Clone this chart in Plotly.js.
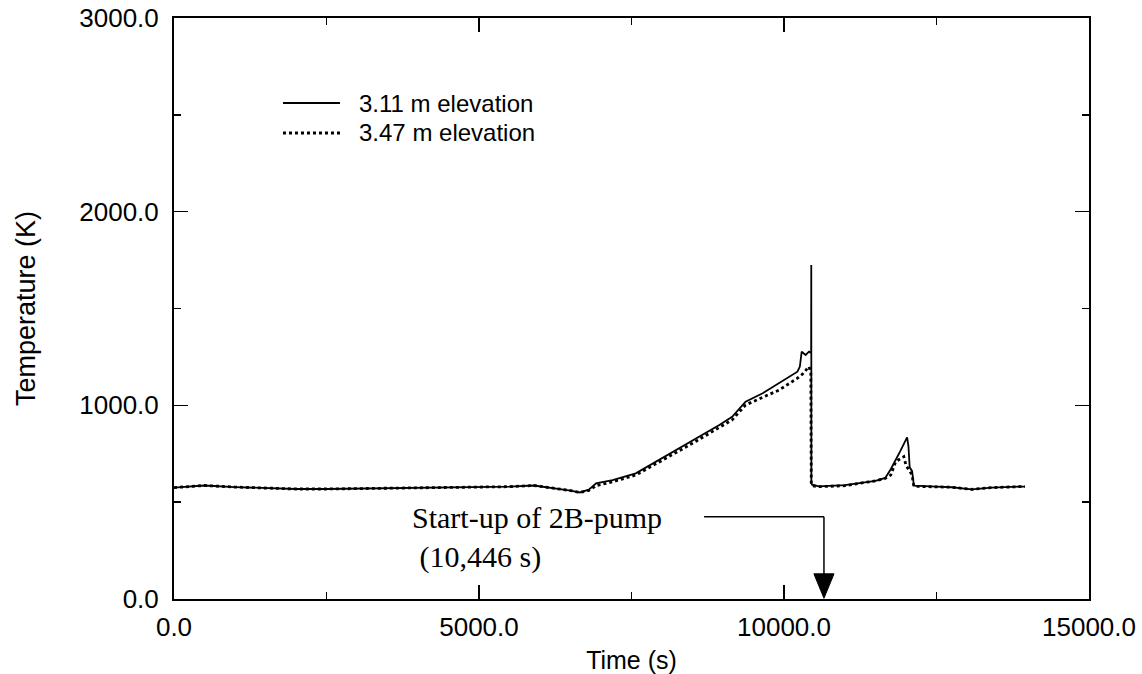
<!DOCTYPE html>
<html>
<head>
<meta charset="utf-8">
<script src="https://cdn.plot.ly/plotly-3.0.1.min.js"></script>
<style>html,body{margin:0;padding:0;background:#fff;}#chart{width:1142px;height:674px;}</style>
</head>
<body>
<div id="chart"></div>
<script>
// 3.11 m elevation (solid)
const timeA = [0, 250, 500, 1000, 1500, 2000, 2500, 3000, 3500, 4000, 4500, 5000, 5500, 5900, 6200, 6500, 6650, 6800, 6920, 7190, 7570, 7950, 8280, 8560, 8940, 9150, 9370, 9650, 9920, 10220, 10260, 10290, 10355, 10410, 10445, 10447, 10449, 10460, 10570, 11000, 11230, 11500, 11660, 11750, 11900, 12018, 12040, 12060, 12100, 12130, 12400, 12750, 13080, 13400, 13850, 13950];
const tempA = [575, 582, 586, 578, 572, 568, 568, 570, 570, 572, 574, 576, 580, 586, 574, 560, 550, 565, 597, 614, 649, 718, 778, 830, 898, 941, 1019, 1062, 1114, 1174, 1200, 1277, 1260, 1277, 1270, 1725, 600, 590, 582, 588, 598, 610, 625, 670, 760, 835, 790, 680, 660, 585, 582, 577, 566, 575, 580, 580];
// 3.47 m elevation (dotted)
const timeB = [0, 250, 500, 1000, 1500, 2000, 2500, 3000, 3500, 4000, 4500, 5000, 5500, 5900, 6200, 6500, 6650, 6800, 6920, 7190, 7570, 7950, 8280, 8560, 8940, 9150, 9370, 9650, 9920, 10220, 10300, 10410, 10440, 10447, 10460, 10570, 11000, 11230, 11500, 11660, 11750, 11830, 11964, 12000, 12046, 12100, 12128, 12400, 12750, 13080, 13400, 13850, 13950];
const tempB = [575, 582, 586, 578, 572, 568, 568, 570, 570, 572, 574, 576, 580, 586, 574, 560, 550, 560, 585, 605, 640, 705, 765, 815, 885, 925, 1002, 1040, 1079, 1140, 1160, 1200, 1170, 600, 585, 580, 585, 597, 610, 623, 640, 709, 735, 690, 666, 640, 582, 580, 577, 566, 575, 580, 580];
const seriesNames = ["3.11 m elevation", "3.47 m elevation"];
const xTicks = [0, 5000, 10000, 15000];
const xMinorTicks = [2500, 7500, 12500];
const yTicks = [0, 1000, 2000, 3000];
const yMinorTicks = [500, 1500, 2500];
const pumpTime = 10655;
const pumpLabel = "Start-up of 2B-pump<br>&nbsp;(10,446 s)";

const sans = "Liberation Sans, Arial, Helvetica, sans-serif";
const serif = "Liberation Serif, Times New Roman, serif";
const styles = [{color: "#000", width: 1.8, dash: "solid"}, {color: "#000", width: 2.8, dash: "dot"}];

const traces = [
  {x: timeA, y: tempA, mode: "lines", name: seriesNames[0], line: styles[0], showlegend: false},
  {x: timeB, y: tempB, mode: "lines", name: seriesNames[1], line: styles[1], showlegend: false},
  {x: [], y: [], xaxis: "x2", yaxis: "y2", mode: "lines", showlegend: false, hoverinfo: "skip"}
];

const axisCommon = {
  showgrid: false, zeroline: false, showline: true, linecolor: "#000", linewidth: 2,
  mirror: "ticks", ticks: "inside", ticklen: 14, tickwidth: 1.5, tickcolor: "#000",
  tickformat: ".1f", tickfont: {family: sans, size: 26, color: "#000"}
};
const minorCommon = {
  showgrid: false, zeroline: false, showline: false, mirror: "ticks",
  ticks: "inside", ticklen: 7, tickwidth: 1.5, tickcolor: "#000", showticklabels: false
};

// manual legend (paper coordinates)
const legendX0 = 0.1191, legendX1 = 0.1814, legendTextX = 0.2011;
const legendY = [0.8537, 0.8021];

const layout = {
  width: 1142, height: 674,
  margin: {l: 174, r: 53, t: 18, b: 75},
  paper_bgcolor: "#fff", plot_bgcolor: "#fff",
  showlegend: false,
  xaxis: Object.assign({}, axisCommon, {
    range: [0, 15000], tickvals: xTicks, ticklabelstandoff: 4,
    title: {text: "Time (s)", font: {family: sans, size: 25, color: "#000"}, standoff: 10}
  }),
  yaxis: Object.assign({}, axisCommon, {
    range: [0, 3000], tickvals: yTicks, ticklabelstandoff: 8,
    title: {text: "Temperature (K)", font: {family: sans, size: 27, color: "#000"}, standoff: 36}
  }),
  xaxis2: Object.assign({}, minorCommon, {overlaying: "x", anchor: "y2", range: [0, 15000], tickvals: xMinorTicks}),
  yaxis2: Object.assign({}, minorCommon, {overlaying: "y", anchor: "x2", range: [0, 3000], tickvals: yMinorTicks}),
  shapes: [
    {type: "line", xref: "x", yref: "y", x0: 8690, x1: pumpTime, y0: 425, y1: 425, line: {color: "#000", width: 1.5}},
    {type: "line", xref: "x", yref: "y", x0: pumpTime, x1: pumpTime, y0: 425, y1: 120, line: {color: "#000", width: 1.5}},
    {type: "path", xref: "x", yref: "y", path: `M ${pumpTime-165},130 L ${pumpTime+165},130 L ${pumpTime},4 Z`, fillcolor: "#000", line: {color: "#000", width: 1}},
    {type: "line", xref: "paper", yref: "paper", x0: legendX0, x1: legendX1, y0: legendY[0], y1: legendY[0], line: styles[0]},
    {type: "line", xref: "paper", yref: "paper", x0: legendX0, x1: legendX1, y0: legendY[1], y1: legendY[1], line: styles[1]}
  ],
  annotations: [
    {x: 3885, y: 320, xref: "x", yref: "y", xanchor: "left", yanchor: "middle", align: "left", showarrow: false, borderpad: 0,
     text: pumpLabel, font: {family: serif, size: 30, color: "#000"}},
    {x: legendTextX, y: legendY[0], xref: "paper", yref: "paper", xanchor: "left", yanchor: "middle", showarrow: false, borderpad: 0,
     text: seriesNames[0], font: {family: sans, size: 24, color: "#000"}},
    {x: legendTextX, y: legendY[1], xref: "paper", yref: "paper", xanchor: "left", yanchor: "middle", showarrow: false, borderpad: 0,
     text: seriesNames[1], font: {family: sans, size: 24, color: "#000"}}
  ]
};

Plotly.newPlot("chart", traces, layout, {staticPlot: true, displayModeBar: false});
</script>
</body>
</html>
